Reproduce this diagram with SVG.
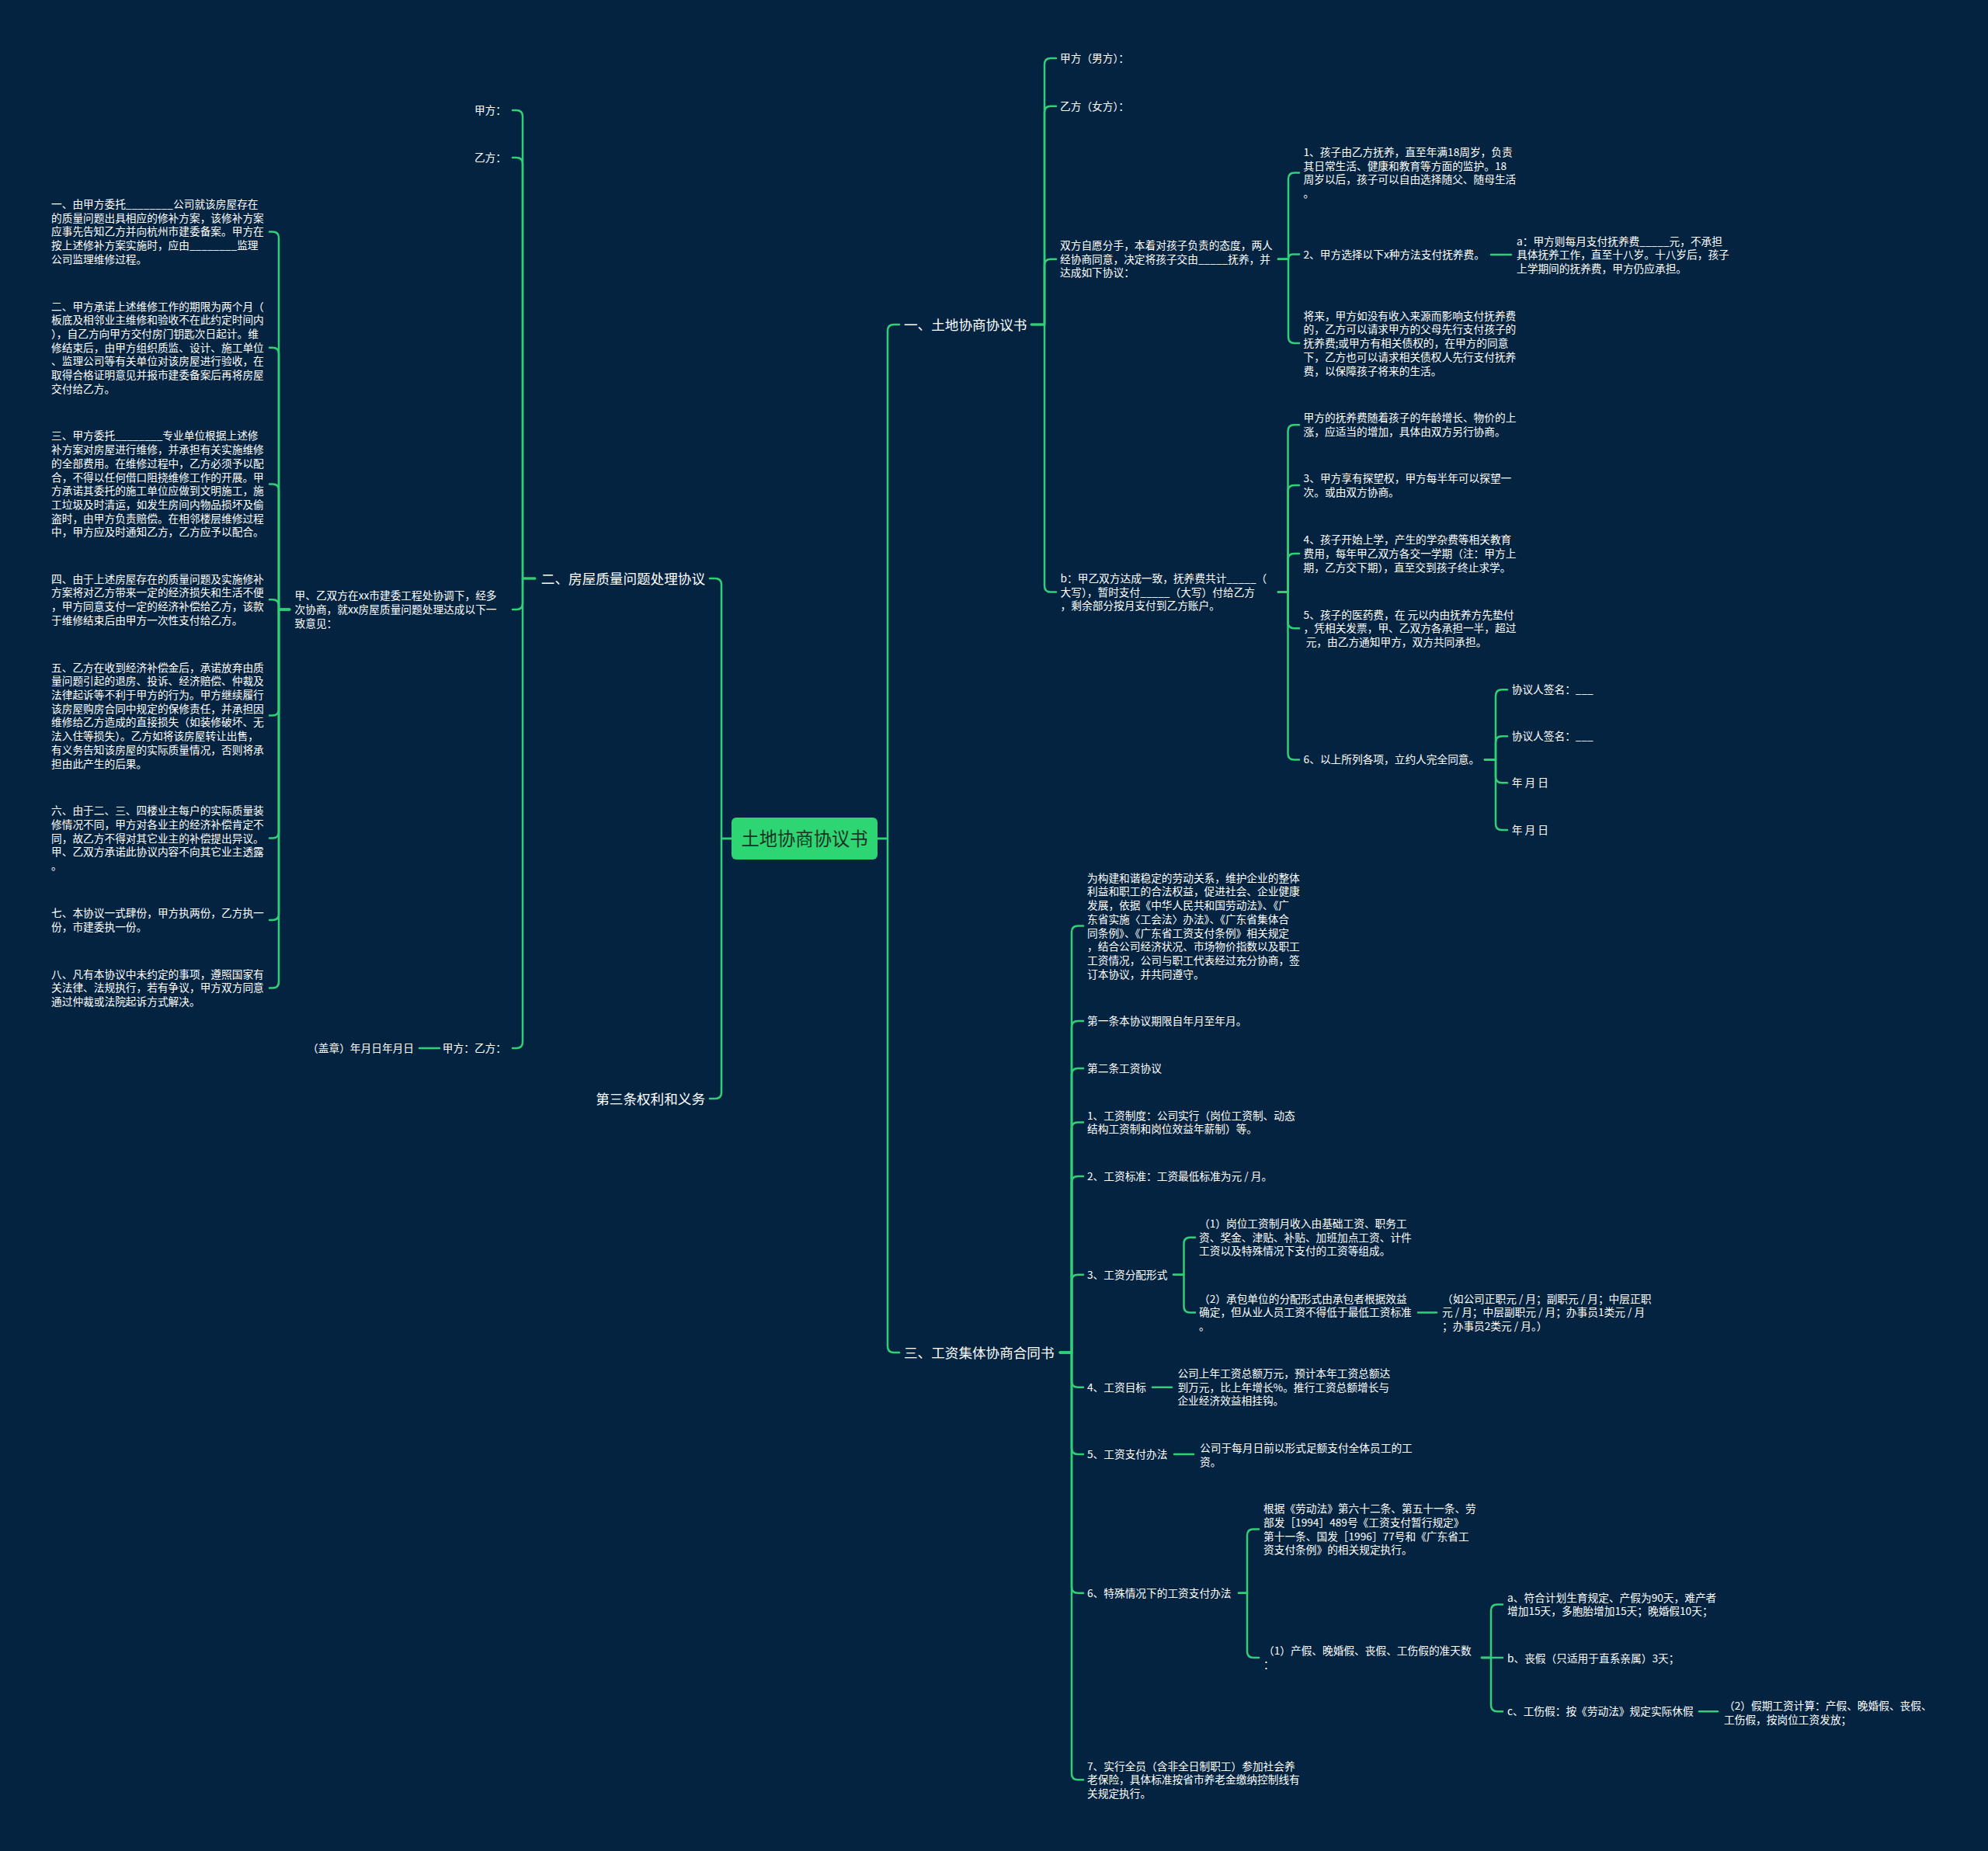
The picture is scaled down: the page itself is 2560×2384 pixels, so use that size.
<svg xmlns="http://www.w3.org/2000/svg" width="2560" height="2384" viewBox="0 0 2560 2384">
<style>
.t{font-family:"Noto Sans CJK SC","Noto Sans",sans-serif;font-size:13.7px;fill:#ffffff}
.l{font-size:17.6px}
.r{font-family:"Noto Sans CJK SC","Noto Sans",sans-serif;font-size:23.3px;fill:#1b3324}
.e{text-anchor:end}
.c path{fill:none;stroke:#31cf78;stroke-width:2.5;stroke-linecap:round;stroke-linejoin:round}
</style>
<rect x="0" y="0" width="2560" height="2384" fill="#032340"/>
<g class="c" id="connectors">
<path d="M942 1080 H929 V753 Q929 745 921 745 H914"/>
<path d="M942 1080 H929 V1407 Q929 1415 921 1415 H914"/>
<path d="M1130 1080 H1143 V426 Q1143 418 1151 418 H1158"/>
<path d="M1130 1080 H1143 V1734 Q1143 1742 1151 1742 H1158"/>
<path d="M689 745 H673 V150 Q673 142 665 142 H660"/>
<path d="M689 745 H673 V211 Q673 203 665 203 H660"/>
<path d="M689 745 H673 V777 Q673 785 665 785 H660"/>
<path d="M689 745 H673 V1342 Q673 1350 665 1350 H660"/>
<path d="M373 785 H359 V306.4 Q359 298.4 351 298.4 H347"/>
<path d="M373 785 H359 V455.7 Q359 447.7 351 447.7 H347"/>
<path d="M373 785 H359 V631.4 Q359 623.4 351 623.4 H347"/>
<path d="M373 785 H359 V780.2 Q359 772.2 351 772.2 H347"/>
<path d="M373 785 H359 V913.6 Q359 921.6 351 921.6 H347"/>
<path d="M373 785 H359 V1071.5 Q359 1079.5 351 1079.5 H347"/>
<path d="M373 785 H359 V1176.9 Q359 1184.9 351 1184.9 H347"/>
<path d="M373 785 H359 V1264.4 Q359 1272.4 351 1272.4 H347"/>
<path d="M566 1350 H540"/>
<path d="M1328 418 H1345 V83 Q1345 75 1353 75 H1360"/>
<path d="M1328 418 H1345 V144.7 Q1345 136.7 1353 136.7 H1360"/>
<path d="M1328 418 H1345 V341.7 Q1345 333.7 1353 333.7 H1360"/>
<path d="M1328 418 H1345 V754.6 Q1345 762.6 1353 762.6 H1360"/>
<path d="M1646 333.7 H1659 V230.6 Q1659 222.6 1667 222.6 H1673"/>
<path d="M1646 333.7 H1659 Q1659 327.5 1665 327.5 H1673"/>
<path d="M1646 333.7 H1659 V434.1 Q1659 442.1 1667 442.1 H1673"/>
<path d="M1920 328 H1946"/>
<path d="M1646 762.6 H1658.5 V555.2 Q1658.5 547.2 1666.5 547.2 H1673"/>
<path d="M1646 762.6 H1658.5 V632.9 Q1658.5 624.9 1666.5 624.9 H1673"/>
<path d="M1646 762.6 H1658.5 V720.9 Q1658.5 712.9 1666.5 712.9 H1673"/>
<path d="M1646 762.6 H1658.5 V801.3 Q1658.5 809.3 1666.5 809.3 H1673"/>
<path d="M1646 762.6 H1658.5 V970.4 Q1658.5 978.4 1666.5 978.4 H1673"/>
<path d="M1912 978.4 H1926 V896.3 Q1926 888.3 1934 888.3 H1941"/>
<path d="M1912 978.4 H1926 V956.3 Q1926 948.3 1934 948.3 H1941"/>
<path d="M1912 978.4 H1926 V1000.3 Q1926 1008.3 1934 1008.3 H1941"/>
<path d="M1912 978.4 H1926 V1061 Q1926 1069 1934 1069 H1941"/>
<path d="M1365 1742 H1380 V1200.6 Q1380 1192.6 1388 1192.6 H1395"/>
<path d="M1365 1742 H1380 V1323 Q1380 1315 1388 1315 H1395"/>
<path d="M1365 1742 H1380 V1384 Q1380 1376 1388 1376 H1395"/>
<path d="M1365 1742 H1380 V1453.6 Q1380 1445.6 1388 1445.6 H1395"/>
<path d="M1365 1742 H1380 V1523 Q1380 1515 1388 1515 H1395"/>
<path d="M1365 1742 H1380 V1649.7 Q1380 1641.7 1388 1641.7 H1395"/>
<path d="M1365 1742 H1380 V1778.7 Q1380 1786.7 1388 1786.7 H1395"/>
<path d="M1365 1742 H1380 V1865 Q1380 1873 1388 1873 H1395"/>
<path d="M1365 1742 H1380 V2043.8 Q1380 2051.8 1388 2051.8 H1395"/>
<path d="M1365 1742 H1380 V2284.3 Q1380 2292.3 1388 2292.3 H1395"/>
<path d="M1511 1641.7 H1524.5 V1601.7 Q1524.5 1593.7 1532.5 1593.7 H1539"/>
<path d="M1511 1641.7 H1524.5 V1682.4 Q1524.5 1690.4 1532.5 1690.4 H1539"/>
<path d="M1826 1690.4 H1850"/>
<path d="M1484 1786.7 H1509"/>
<path d="M1512 1873 H1537"/>
<path d="M1595 2051.8 H1606 V1977.6 Q1606 1969.6 1614 1969.6 H1621"/>
<path d="M1595 2051.8 H1606 V2127 Q1606 2135 1614 2135 H1621"/>
<path d="M1908 2135 H1920 V2074.6 Q1920 2066.6 1928 2066.6 H1935"/>
<path d="M1908 2135 H1935"/>
<path d="M1908 2135 H1920 V2196.3 Q1920 2204.3 1928 2204.3 H1935"/>
<path d="M2188 2204.3 H2212"/>
</g>
<g id="root">
<rect x="942" y="1053" width="188" height="54" rx="6" fill="#2ed573"/>
<text class="r" x="1036" y="1088.5" text-anchor="middle">土地协商协议书</text>
</g>
<g id="n-er"><text class="t l e" x="908" y="751.5">二、房屋质量问题处理协议</text></g>
<g id="n-disan"><text class="t l e" x="908" y="1421.5">第三条权利和义务</text></g>
<g id="n-jia"><text class="t e" x="652" y="147">甲方：</text></g>
<g id="n-yi"><text class="t e" x="652" y="208">乙方：</text></g>
<g id="n-jiayi-sign"><text class="t e" x="652" y="1355">甲方：乙方：</text></g>
<g id="n-gaizhang"><text class="t e" x="533" y="1355">（盖章）年月日年月日</text></g>
<g id="n-shuangfang"><text class="t" x="379.5" y="772.3"><tspan x="379.5">甲、乙双方在xx市建委工程处协调下，经多</tspan><tspan x="379.5" dy="17.7">次协商，就xx房屋质量问题处理达成以下一</tspan><tspan x="379.5" dy="17.7">致意见：</tspan></text></g>
<g id="n-item1"><text class="t" x="66" y="268"><tspan x="66">一、由甲方委托________公司就该房屋存在</tspan><tspan x="66" dy="17.7">的质量问题出具相应的修补方案，该修补方案</tspan><tspan x="66" dy="17.7">应事先告知乙方并向杭州市建委备案。甲方在</tspan><tspan x="66" dy="17.7">按上述修补方案实施时，应由________监理</tspan><tspan x="66" dy="17.7">公司监理维修过程。</tspan></text></g>
<g id="n-item2"><text class="t" x="66" y="399.6"><tspan x="66">二、甲方承诺上述维修工作的期限为两个月（</tspan><tspan x="66" dy="17.7">板底及相邻业主维修和验收不在此约定时间内</tspan><tspan x="66" dy="17.7">），自乙方向甲方交付房门钥匙次日起计。维</tspan><tspan x="66" dy="17.7">修结束后，由甲方组织质监、设计、施工单位</tspan><tspan x="66" dy="17.7">、监理公司等有关单位对该房屋进行验收，在</tspan><tspan x="66" dy="17.7">取得合格证明意见并报市建委备案后再将房屋</tspan><tspan x="66" dy="17.7">交付给乙方。</tspan></text></g>
<g id="n-item3"><text class="t" x="66" y="566.4"><tspan x="66">三、甲方委托________专业单位根据上述修</tspan><tspan x="66" dy="17.7">补方案对房屋进行维修，并承担有关实施维修</tspan><tspan x="66" dy="17.7">的全部费用。在维修过程中，乙方必须予以配</tspan><tspan x="66" dy="17.7">合，不得以任何借口阻挠维修工作的开展。甲</tspan><tspan x="66" dy="17.7">方承诺其委托的施工单位应做到文明施工，施</tspan><tspan x="66" dy="17.7">工垃圾及时清运，如发生房间内物品损坏及偷</tspan><tspan x="66" dy="17.7">盗时，由甲方负责赔偿。在相邻楼层维修过程</tspan><tspan x="66" dy="17.7">中，甲方应及时通知乙方，乙方应予以配合。</tspan></text></g>
<g id="n-item4"><text class="t" x="66" y="750.6"><tspan x="66">四、由于上述房屋存在的质量问题及实施修补</tspan><tspan x="66" dy="17.7">方案将对乙方带来一定的经济损失和生活不便</tspan><tspan x="66" dy="17.7">，甲方同意支付一定的经济补偿给乙方，该款</tspan><tspan x="66" dy="17.7">于维修结束后由甲方一次性支付给乙方。</tspan></text></g>
<g id="n-item5"><text class="t" x="66" y="864.6"><tspan x="66">五、乙方在收到经济补偿金后，承诺放弃由质</tspan><tspan x="66" dy="17.7">量问题引起的退房、投诉、经济赔偿、仲裁及</tspan><tspan x="66" dy="17.7">法律起诉等不利于甲方的行为。甲方继续履行</tspan><tspan x="66" dy="17.7">该房屋购房合同中规定的保修责任，并承担因</tspan><tspan x="66" dy="17.7">维修给乙方造成的直接损失（如装修破坏、无</tspan><tspan x="66" dy="17.7">法入住等损失）。乙方如将该房屋转让出售，</tspan><tspan x="66" dy="17.7">有义务告知该房屋的实际质量情况，否则将承</tspan><tspan x="66" dy="17.7">担由此产生的后果。</tspan></text></g>
<g id="n-item6"><text class="t" x="66" y="1049.1"><tspan x="66">六、由于二、三、四楼业主每户的实际质量装</tspan><tspan x="66" dy="17.7">修情况不同，甲方对各业主的经济补偿肯定不</tspan><tspan x="66" dy="17.7">同，故乙方不得对其它业主的补偿提出异议。</tspan><tspan x="66" dy="17.7">甲、乙双方承诺此协议内容不向其它业主透露</tspan><tspan x="66" dy="17.7">。</tspan></text></g>
<g id="n-item7"><text class="t" x="66" y="1181"><tspan x="66">七、本协议一式肆份，甲方执两份，乙方执一</tspan><tspan x="66" dy="17.7">份，市建委执一份。</tspan></text></g>
<g id="n-item8"><text class="t" x="66" y="1259.7"><tspan x="66">八、凡有本协议中未约定的事项，遵照国家有</tspan><tspan x="66" dy="17.7">关法律、法规执行，若有争议，甲方双方同意</tspan><tspan x="66" dy="17.7">通过仲裁或法院起诉方式解决。</tspan></text></g>
<g id="n-yi-main"><text class="t l" x="1164" y="424.5">一、土地协商协议书</text></g>
<g id="n-san-main"><text class="t l" x="1164" y="1748.5">三、工资集体协商合同书</text></g>
<g id="n-nanfang"><text class="t" x="1365" y="80">甲方（男方）：</text></g>
<g id="n-nvfang"><text class="t" x="1365" y="141.7">乙方（女方）：</text></g>
<g id="n-ziyuan"><text class="t" x="1365" y="321"><tspan x="1365">双方自愿分手，本着对孩子负责的态度，两人</tspan><tspan x="1365" dy="17.7">经协商同意，决定将孩子交由_____抚养，并</tspan><tspan x="1365" dy="17.7">达成如下协议：</tspan></text></g>
<g id="n-b"><text class="t" x="1365.6" y="749.9"><tspan x="1365.6">b：甲乙双方达成一致，抚养费共计_____（</tspan><tspan x="1365.6" dy="17.7">大写），暂时支付_____（大写）付给乙方</tspan><tspan x="1365.6" dy="17.7">，剩余部分按月支付到乙方账户。</tspan></text></g>
<g id="n-k1"><text class="t" x="1678.5" y="201"><tspan x="1678.5">1、孩子由乙方抚养，直至年满18周岁，负责</tspan><tspan x="1678.5" dy="17.7">其日常生活、健康和教育等方面的监护。18</tspan><tspan x="1678.5" dy="17.7">周岁以后，孩子可以自由选择随父、随母生活</tspan><tspan x="1678.5" dy="17.7">。</tspan></text></g>
<g id="n-k2"><text class="t" x="1678.5" y="332.5">2、甲方选择以下x种方法支付抚养费。</text></g>
<g id="n-jianglai"><text class="t" x="1678.5" y="411.7"><tspan x="1678.5">将来，甲方如没有收入来源而影响支付抚养费</tspan><tspan x="1678.5" dy="17.7">的，乙方可以请求甲方的父母先行支付孩子的</tspan><tspan x="1678.5" dy="17.7">抚养费;或甲方有相关债权的，在甲方的同意</tspan><tspan x="1678.5" dy="17.7">下，乙方也可以请求相关债权人先行支付抚养</tspan><tspan x="1678.5" dy="17.7">费，以保障孩子将来的生活。</tspan></text></g>
<g id="n-a"><text class="t" x="1953" y="315.7"><tspan x="1953">a：甲方则每月支付抚养费_____元，不承担</tspan><tspan x="1953" dy="17.7">具体抚养工作，直至十八岁。十八岁后，孩子</tspan><tspan x="1953" dy="17.7">上学期间的抚养费，甲方仍应承担。</tspan></text></g>
<g id="n-fyf"><text class="t" x="1678.6" y="543.3"><tspan x="1678.6">甲方的抚养费随着孩子的年龄增长、物价的上</tspan><tspan x="1678.6" dy="17.7">涨，应适当的增加，具体由双方另行协商。</tspan></text></g>
<g id="n-k3"><text class="t" x="1678.6" y="621"><tspan x="1678.6">3、甲方享有探望权，甲方每半年可以探望一</tspan><tspan x="1678.6" dy="17.7">次。或由双方协商。</tspan></text></g>
<g id="n-k4"><text class="t" x="1678.6" y="700.2"><tspan x="1678.6">4、孩子开始上学，产生的学杂费等相关教育</tspan><tspan x="1678.6" dy="17.7">费用，每年甲乙双方各交一学期（注：甲方上</tspan><tspan x="1678.6" dy="17.7">期，乙方交下期），直至交到孩子终止求学。</tspan></text></g>
<g id="n-k5"><text class="t" x="1678.6" y="796.6"><tspan x="1678.6">5、孩子的医药费，在 元以内由抚养方先垫付</tspan><tspan x="1678.6" dy="17.7">，凭相关发票，甲、乙双方各承担一半，超过</tspan><tspan x="1678.6" dy="17.7">&#160;元，由乙方通知甲方，双方共同承担。</tspan></text></g>
<g id="n-k6"><text class="t" x="1678.6" y="983.4">6、以上所列各项，立约人完全同意。</text></g>
<g id="n-sig1"><text class="t" x="1946.7" y="893.3">协议人签名：___</text></g>
<g id="n-sig2"><text class="t" x="1946.7" y="953.3">协议人签名：___</text></g>
<g id="n-date1"><text class="t" x="1946.7" y="1013.3">年 月 日</text></g>
<g id="n-date2"><text class="t" x="1946.7" y="1074">年 月 日</text></g>
<g id="n-intro"><text class="t" x="1400" y="1135.7"><tspan x="1400">为构建和谐稳定的劳动关系，维护企业的整体</tspan><tspan x="1400" dy="17.7">利益和职工的合法权益，促进社会、企业健康</tspan><tspan x="1400" dy="17.7">发展，依据《中华人民共和国劳动法》、《广</tspan><tspan x="1400" dy="17.7">东省实施〈工会法〉办法》、《广东省集体合</tspan><tspan x="1400" dy="17.7">同条例》、《广东省工资支付条例》相关规定</tspan><tspan x="1400" dy="17.7">，结合公司经济状况、市场物价指数以及职工</tspan><tspan x="1400" dy="17.7">工资情况，公司与职工代表经过充分协商，签</tspan><tspan x="1400" dy="17.7">订本协议，并共同遵守。</tspan></text></g>
<g id="n-t1"><text class="t" x="1400" y="1320">第一条本协议期限自年月至年月。</text></g>
<g id="n-t2"><text class="t" x="1400" y="1381">第二条工资协议</text></g>
<g id="n-w1"><text class="t" x="1400" y="1441.7"><tspan x="1400">1、工资制度：公司实行（岗位工资制、动态</tspan><tspan x="1400" dy="17.7">结构工资制和岗位效益年薪制）等。</tspan></text></g>
<g id="n-w2"><text class="t" x="1400" y="1520">2、工资标准：工资最低标准为元 / 月。</text></g>
<g id="n-w3"><text class="t" x="1400" y="1646.7">3、工资分配形式</text></g>
<g id="n-w4"><text class="t" x="1400" y="1791.7">4、工资目标</text></g>
<g id="n-w5"><text class="t" x="1400" y="1878">5、工资支付办法</text></g>
<g id="n-w6"><text class="t" x="1400" y="2056.8">6、特殊情况下的工资支付办法</text></g>
<g id="n-w7"><text class="t" x="1400" y="2279.6"><tspan x="1400">7、实行全员（含非全日制职工）参加社会养</tspan><tspan x="1400" dy="17.7">老保险，具体标准按省市养老金缴纳控制线有</tspan><tspan x="1400" dy="17.7">关规定执行。</tspan></text></g>
<g id="n-w3a"><text class="t" x="1544" y="1581"><tspan x="1544">（1）岗位工资制月收入由基础工资、职务工</tspan><tspan x="1544" dy="17.7">资、奖金、津贴、补贴、加班加点工资、计件</tspan><tspan x="1544" dy="17.7">工资以及特殊情况下支付的工资等组成。</tspan></text></g>
<g id="n-w3b"><text class="t" x="1544" y="1677.7"><tspan x="1544">（2）承包单位的分配形式由承包者根据效益</tspan><tspan x="1544" dy="17.7">确定，但从业人员工资不得低于最低工资标准</tspan><tspan x="1544" dy="17.7">。</tspan></text></g>
<g id="n-w3b1"><text class="t" x="1857" y="1677.7"><tspan x="1857">（如公司正职元 / 月；副职元 / 月；中层正职</tspan><tspan x="1857" dy="17.7">元 / 月；中层副职元 / 月；办事员1类元 / 月</tspan><tspan x="1857" dy="17.7">；办事员2类元 / 月。）</tspan></text></g>
<g id="n-w4a"><text class="t" x="1516.4" y="1774"><tspan x="1516.4">公司上年工资总额万元，预计本年工资总额达</tspan><tspan x="1516.4" dy="17.7">到万元，比上年增长%。推行工资总额增长与</tspan><tspan x="1516.4" dy="17.7">企业经济效益相挂钩。</tspan></text></g>
<g id="n-w5a"><text class="t" x="1545" y="1869.9"><tspan x="1545">公司于每月日前以形式足额支付全体员工的工</tspan><tspan x="1545" dy="17.7">资。</tspan></text></g>
<g id="n-w6a"><text class="t" x="1627" y="1948.1"><tspan x="1627">根据《劳动法》第六十二条、第五十一条、劳</tspan><tspan x="1627" dy="17.7">部发［1994］489号《工资支付暂行规定》</tspan><tspan x="1627" dy="17.7">第十一条、国发［1996］77号和《广东省工</tspan><tspan x="1627" dy="17.7">资支付条例》的相关规定执行。</tspan></text></g>
<g id="n-w6b"><text class="t" x="1627" y="2131.2"><tspan x="1627">（1）产假、晚婚假、丧假、工伤假的准天数</tspan><tspan x="1627" dy="17.7">：</tspan></text></g>
<g id="n-ja"><text class="t" x="1941" y="2062.7"><tspan x="1941">a、符合计划生育规定、产假为90天，难产者</tspan><tspan x="1941" dy="17.7">增加15天，多胞胎增加15天；晚婚假10天；</tspan></text></g>
<g id="n-jb"><text class="t" x="1941" y="2141">b、丧假（只适用于直系亲属）3天；</text></g>
<g id="n-jc"><text class="t" x="1941" y="2209.3">c、工伤假：按《劳动法》规定实际休假</text></g>
<g id="n-jc1"><text class="t" x="2220" y="2202"><tspan x="2220">（2）假期工资计算：产假、晚婚假、丧假、</tspan><tspan x="2220" dy="17.7">工伤假，按岗位工资发放；</tspan></text></g>
</svg>
